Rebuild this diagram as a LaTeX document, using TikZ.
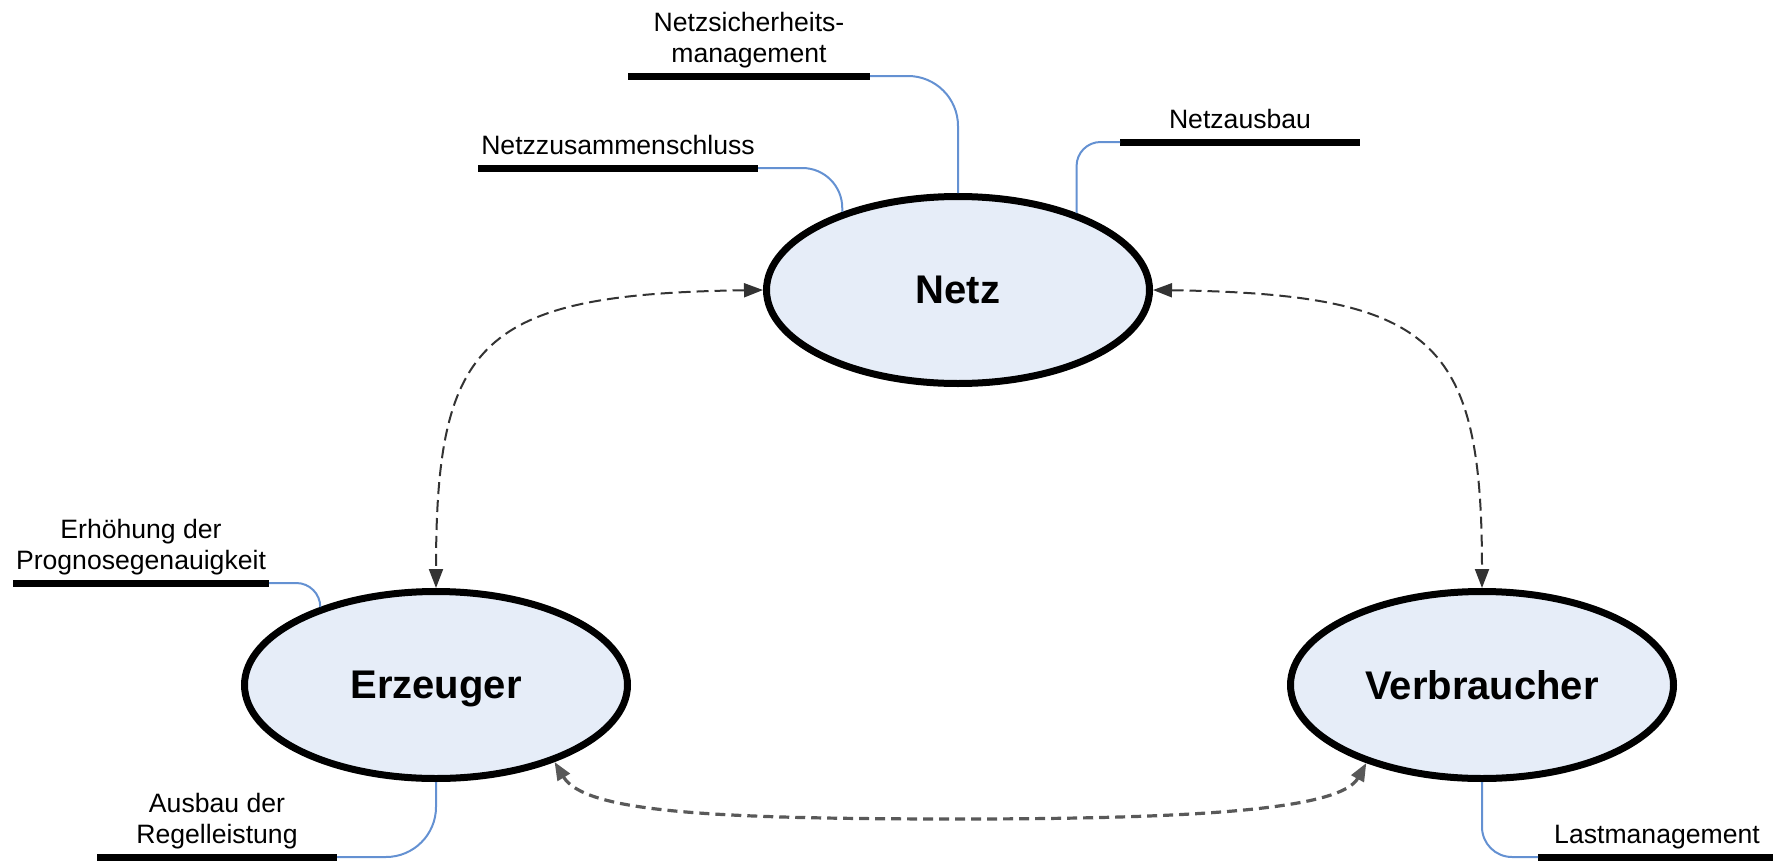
\documentclass[tikz,border=0pt]{standalone}
\usepackage{fontspec}
\setmainfont{Liberation Sans}
\usetikzlibrary{arrows.meta,shapes.geometric}
\definecolor{ellfill}{RGB}{230,237,248}
\definecolor{connblue}{RGB}{100,145,210}
\begin{document}
\begin{tikzpicture}[x=0.5pt,y=-0.5pt,
  mainnode/.style={ellipse, draw=black, line width=3.5pt, fill=ellfill,
    minimum width=191.5pt, minimum height=93.5pt, inner sep=0pt,
    font=\fontsize{20pt}{24pt}\selectfont\bfseries, text depth=0pt},
  labeltext/.style={anchor=south, inner xsep=0pt, inner ysep=6.75pt, outer sep=0pt,
    text depth=0pt, align=center, font=\fontsize{13.3pt}{15.3pt}\selectfont},
  tagbar/.style={line width=3.5pt, draw=black},
  blueline/.style={draw=connblue, line width=1pt, rounded corners=#1},
  dasharrow/.style={draw=black!80, line width=1pt, dash pattern=on 6pt off 3pt,
    {Triangle[length=9.5pt,width=7pt]}-{Triangle[length=9.5pt,width=7pt]}},
  dasharrowb/.style={draw=black!65, line width=1.6pt, dash pattern=on 5pt off 3pt,
    {Triangle[length=9pt,width=7pt]}-{Triangle[length=9pt,width=7pt]}}
]
\useasboundingbox (0,0) rectangle (1773,862);

% main entities
\node[mainnode] (netz) at (958,290) {Netz};
\node[mainnode] (erz) at (436,685) {Erzeuger};
\node[mainnode] (verb) at (1482,685) {Verbraucher};

% labels
\node[labeltext, minimum width=121pt] (lsich) at (749,76) {Netzsicherheits-\\management};
\node[labeltext, minimum width=140pt] (lzus) at (618,168) {Netzzusammenschluss};
\node[labeltext, minimum width=120pt] (laus) at (1240,142) {Netzausbau};
\node[labeltext, minimum width=128pt] (lprog) at (141,583) {Erhöhung der\\Prognosegenauigkeit};
\node[labeltext, minimum width=120pt] (lregel) at (217,857) {Ausbau der\\Regelleistung};
\node[labeltext, minimum width=119pt] (llast) at (1657,857) {Lastmanagement};

% bars
\draw[tagbar] (lsich.south west) -- (lsich.south east);
\draw[tagbar] (lzus.south west) -- (lzus.south east);
\draw[tagbar] (laus.south west) -- (laus.south east);
\draw[tagbar] (lprog.south west) -- (lprog.south east);
\draw[tagbar] (lregel.south west) -- (lregel.south east);
\draw[tagbar] (llast.south west) -- (llast.south east);

% blue connectors
\draw[blueline=25pt] (lsich.south east) -| (netz.north);
\draw[blueline=20pt] (lzus.south east) -| (netz.146);
\draw[blueline=12pt] (laus.south west) -| (netz.33);
\draw[blueline=12pt] (lprog.south east) -| (erz.146);
\draw[blueline=25pt] (lregel.south east) -| (erz.south);
\draw[blueline=15pt] (llast.south west) -| (verb.south);

% dashed relations
\draw[dasharrow] (netz.west) .. controls +(-282,4) and +(0,-248) .. (erz.north);
\draw[dasharrow] (netz.east) .. controls +(282,4) and +(0,-248) .. (verb.north);
\coordinate (bmid) at (960,819);
\draw[dasharrowb] (erz.-33) .. controls +(30,50) and +(-250,0) .. (bmid)
  .. controls +(250,0) and +(-25,45) .. (verb.214);
\end{tikzpicture}
\end{document}
